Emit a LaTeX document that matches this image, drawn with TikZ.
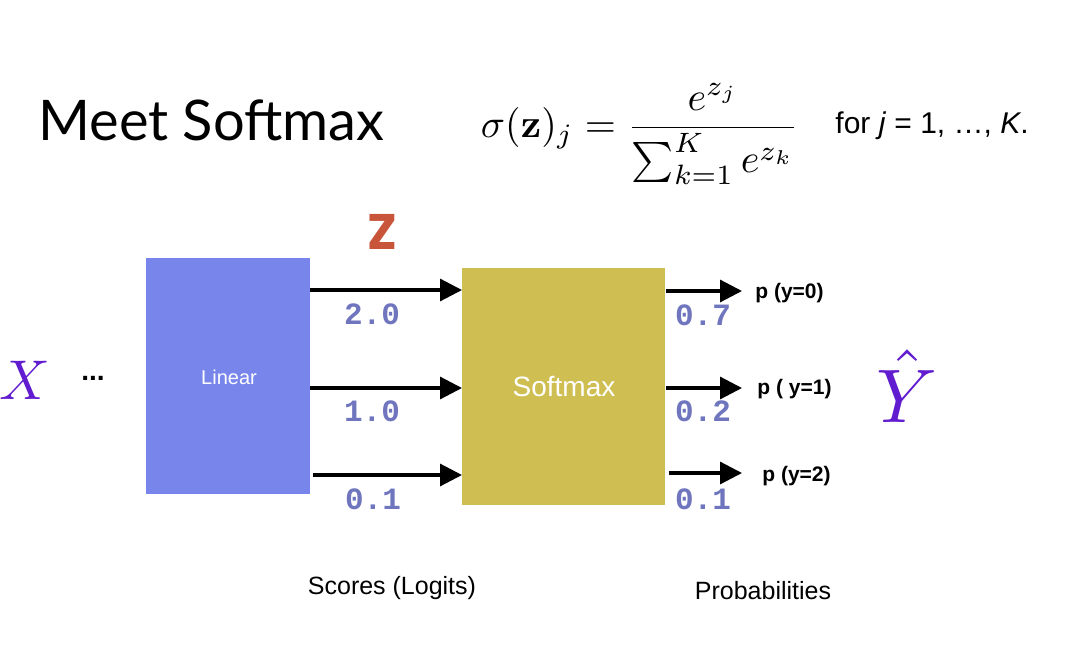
\documentclass[tikz,border=0pt]{standalone}
\usepackage[no-math]{fontspec}
\setmainfont{Liberation Sans}
\newfontfamily\titlefont{Lato}
\newfontfamily\zfont{Poppins}
\newfontfamily\numfont{Liberation Mono}
\usetikzlibrary{arrows.meta,calc}
\definecolor{linblue}{RGB}{120,134,236}
\definecolor{softyellow}{RGB}{207,190,82}
\definecolor{numcol}{RGB}{112,118,190}
\definecolor{zred}{RGB}{200,84,58}
\definecolor{ypurple}{RGB}{98,28,208}
\tikzset{
  box/.style={draw=none, inner sep=0pt, anchor=north west},
  arr/.style={line width=1.6pt, -{Triangle[length=11pt,width=11pt]}},
  num/.style={font=\numfont\bfseries\fontsize{15.5}{16}\selectfont, text=numcol, inner sep=0pt},
  plab/.style={font=\bfseries\fontsize{10.5}{12}\selectfont, anchor=west, inner sep=0pt},
  captext/.style={font=\fontsize{12.5}{14}\selectfont, inner sep=0pt}
}
\begin{document}
\begin{tikzpicture}[x=0.5pt,y=-0.5pt]
\useasboundingbox[fill=white] (0,0) rectangle (1086,653);
% title
\node[anchor=base west, inner sep=0pt, font=\titlefont\fontsize{28}{30}\selectfont] (title) at (38,140) {Meet Softmax};
% formula
\node[inner sep=0pt] (formula) at (640,134)
  {\scalebox{2.0}{$\displaystyle \sigma(\mathbf{z})_j = \frac{e^{z_j}}{\sum_{k=1}^{K} e^{z_k}}$}};
\node[inner sep=0pt, anchor=base west, font=\fontsize{15}{17}\selectfont] (forj) at (835,133) {for \textit{j} = 1, …, \textit{K}.};
% boxes
\node[box, fill=linblue, minimum width=164*0.5pt, minimum height=236*0.5pt] (lin) at (146,258) {};
\node[text=white, font=\fontsize{10}{12}\selectfont] (lintxt) at (229,377) {Linear};
\node[box, fill=softyellow, minimum width=203*0.5pt, minimum height=237*0.5pt] (soft) at (462,268) {};
\node[text=white, font=\fontsize{14}{16}\selectfont] (softtxt) at (564,386) {Softmax};
% Z
\node[text=zred, font=\zfont\bfseries\fontsize{25}{28}\selectfont, inner sep=0pt] (z) at (382,232) {Z};
% X and Yhat
\node[text=ypurple, inner sep=0pt] (x) at (25,380) {\scalebox{2.8}{$X$}};
\node[inner sep=0pt, font=\bfseries\fontsize{14}{16}\selectfont] (dots) at (93,378) {...};
\node[text=ypurple, inner sep=0pt] (yhat) at (907,386) {\scalebox{3.8}{$\hat{Y}$}};
% left arrows
\coordinate (l1) at (310,290);
\coordinate (l2) at (310,388);
\coordinate (l3) at (313,475);
\draw[arr] (l1) -- (l1 -| soft.west);
\draw[arr] (l2) -- (l2 -| soft.west);
\draw[arr] (l3) -- (l3 -| soft.west);
\node[num] (n1) at (372,314) {2.0};
\node[num] (n2) at (372,411) {1.0};
\node[num] (n3) at (373,499) {0.1};
% right arrows
\coordinate (r1) at (742,291);
\coordinate (r2) at (742,388);
\coordinate (r3) at (742,473);
\draw[arr] (soft.east |- r1) -- (r1);
\draw[arr] (soft.east |- r2) -- (r2);
\draw[arr] ($(soft.east |- r3)+(3,0)$) -- (r3);
\node[plab] (p1) at (755,293) {p (y=0)};
\node[plab] (p2) at (757,389) {p ( y=1)};
\node[plab] (p3) at (762,476) {p (y=2)};
\node[num] (o1) at (703,315) {0.7};
\node[num] (o2) at (703,411) {0.2};
\node[num] (o3) at (703,499) {0.1};
% captions
\node[captext] (scores) at (392,588) {Scores (Logits)};
\node[captext] (probs) at (763,591) {Probabilities};
\end{tikzpicture}
\end{document}
